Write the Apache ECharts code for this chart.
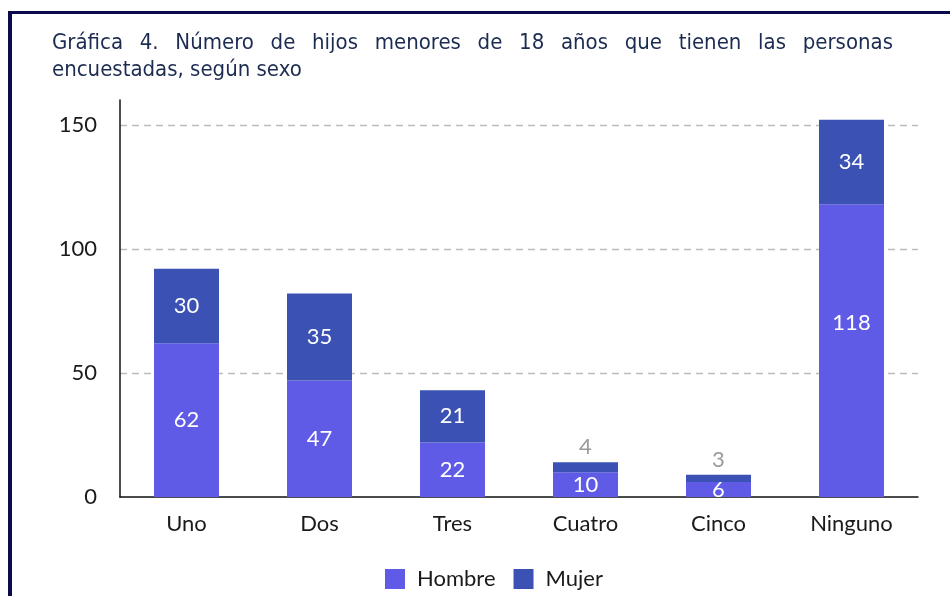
<!DOCTYPE html>
<html>
<head>
<meta charset="utf-8">
<script src="https://cdn.jsdelivr.net/npm/echarts@6/dist/echarts.min.js"></script>
<style>
  html, body { margin: 0; padding: 0; background: #fff; }
  .frame {
    position: relative;
    width: 950px;
    height: 596px;
    overflow: hidden;
  }
  .frame-border {
    position: absolute;
    left: 8px;
    top: 11px;
    right: -10px;
    bottom: -10px;
    border-left: 4px solid #0b0a4c;
    border-top: 3px solid #0b0a4c;
  }
  .title {
    position: absolute;
    left: 52px;
    top: 28px;
    width: 841px;
    font-family: 'Liberation Sans Narrow', 'DejaVu Sans Condensed', 'Noto Sans', sans-serif;
    font-size: 22px;
    line-height: 27px;
    color: #1c2b50;
    text-align: justify;
    z-index: 2;
  }
  #chart {
    position: absolute;
    left: 0;
    top: 0;
    width: 950px;
    height: 596px;
  }
</style>
</head>
<body>
<div class="frame">
  <div class="frame-border"></div>
  <div class="title">Gráfica 4. Número de hijos menores de 18 años que tienen las personas encuestadas, según sexo</div>
  <div id="chart"></div>
</div>
<script>
const categories = ['Uno', 'Dos', 'Tres', 'Cuatro', 'Cinco', 'Ninguno']
const hombre = [62, 47, 22, 10, 6, 118]
const mujer = [30, 35, 21, 4, 3, 34]
const yTicks = [0, 50, 100, 150]

const FONT = 'Lato, "Open Sans", sans-serif'
const C_HOMBRE = '#5f5be6'
const C_MUJER = '#3b52b4'

// las barras pequeñas llevan la etiqueta de Mujer encima, en gris
function mujerData() {
  return mujer.map((v, i) => {
    if (v + hombre[i] < 20) {
      return { value: v, label: { position: 'top', color: '#9a9a9a', distance: 4 } }
    }
    return v
  })
}

function hombreData() {
  return hombre.map((v) => {
    if (v > 100) return { value: v, label: { offset: [0, -28] } }
    return v
  })
}

const chart = echarts.init(document.getElementById('chart'))
chart.setOption({
  animation: false,
  grid: { left: 120, right: 32, top: 100, bottom: 99, containLabel: false },
  legend: {
    bottom: 1,
    left: 380,
    itemWidth: 20,
    itemHeight: 20,
    itemGap: 18,
    icon: 'rect',
    textStyle: { fontFamily: FONT, fontSize: 22, color: '#1a1a1a', padding: [0, 0, 0, 7] },
    data: ['Hombre', 'Mujer']
  },
  xAxis: {
    type: 'category',
    data: categories,
    axisLine: { lineStyle: { color: '#111', width: 1.5 } },
    axisTick: { show: false },
    axisLabel: { fontFamily: FONT, fontSize: 22, color: '#1a1a1a', margin: 16 }
  },
  yAxis: {
    type: 'value',
    min: yTicks[0],
    max: 160,
    interval: yTicks[1] - yTicks[0],
    axisLine: { show: true, lineStyle: { color: '#111', width: 1.5 } },
    axisTick: { show: false },
    axisLabel: {
      fontFamily: FONT, fontSize: 22, color: '#1a1a1a', margin: 23,
      showMaxLabel: false,
      formatter: (v) => (yTicks.includes(v) ? String(v) : '')
    },
    splitLine: {
      show: true,
      showMinLine: false,
      showMaxLine: false,
      lineStyle: { color: '#bdbdbd', type: [7, 5], width: 1.3 }
    }
  },
  series: [
    {
      name: 'Hombre',
      type: 'bar',
      stack: 'total',
      barWidth: 65,
      itemStyle: { color: C_HOMBRE },
      label: { show: true, position: 'inside', color: '#fff', fontFamily: FONT, fontSize: 22 },
      data: hombreData()
    },
    {
      name: 'Mujer',
      type: 'bar',
      stack: 'total',
      barWidth: 65,
      itemStyle: { color: C_MUJER },
      label: { show: true, position: 'inside', color: '#fff', fontFamily: FONT, fontSize: 22 },
      data: mujerData()
    }
  ]
})
</script>
</body>
</html>
